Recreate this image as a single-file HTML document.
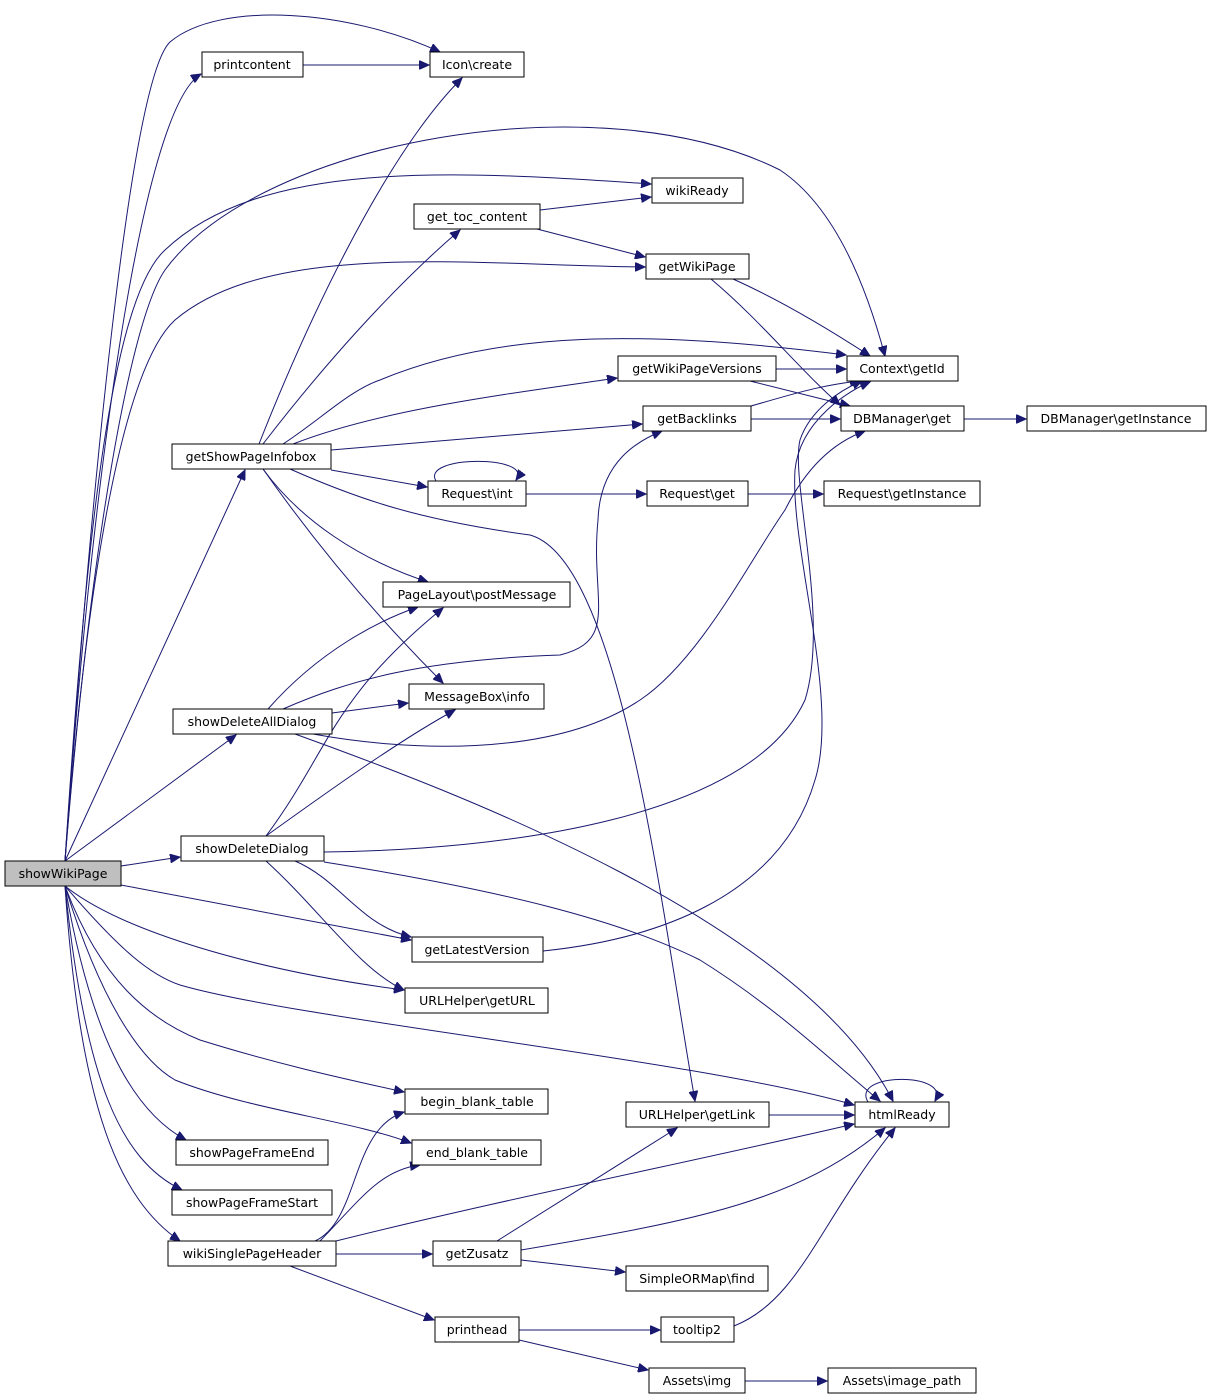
<!DOCTYPE html>
<html><head><meta charset="utf-8"><style>
html,body{margin:0;padding:0;background:#fff;}
svg{display:block;}
text{font-family:"DejaVu Sans","Liberation Sans",sans-serif;font-size:12.5px;fill:#000;text-anchor:middle;}
.n{fill:#fff;stroke:#000;stroke-width:1;}
.e{fill:none;stroke:#191970;stroke-width:1;marker-end:url(#a);}
</style></head><body>
<svg width="1212" height="1400" viewBox="0 0 1212 1400" xmlns="http://www.w3.org/2000/svg">
<defs><marker id="a" markerUnits="userSpaceOnUse" markerWidth="11" markerHeight="9" refX="10" refY="4.5" orient="auto"><path d="M0,0 L10,4.5 L0,9 z" fill="#191970" stroke="#191970"/></marker></defs>
<g>
<path class="e" d="M65,861 C90,500 130,80 170,42 C220,0 350,10 440,52"/>
<path class="e" d="M65,861 C90,500 140,110 201,74"/>
<path class="e" d="M65,861 C90,550 130,320 165,270 C260,140 600,80 780,170 C840,210 870,300 885,356"/>
<path class="e" d="M65,861 C85,550 110,300 165,250 C260,160 450,170 651,184"/>
<path class="e" d="M65,861 C85,600 120,370 175,320 C270,240 470,265 645,267"/>
<path class="e" d="M65,861 L245,470"/>
<path class="e" d="M65,861 L236,735"/>
<path class="e" d="M121,866 L180,857"/>
<path class="e" d="M121,885 L411,940"/>
<path class="e" d="M65,886 C120,930 250,970 404,990"/>
<path class="e" d="M65,886 C120,950 150,975 180,985 C300,1020 700,1060 854,1105"/>
<path class="e" d="M65,886 C100,980 150,1020 200,1040 C280,1065 350,1080 404,1092"/>
<path class="e" d="M65,886 C100,1000 140,1060 175,1080 C250,1110 350,1120 411,1143"/>
<path class="e" d="M65,886 C90,1030 130,1110 186,1140"/>
<path class="e" d="M65,886 C85,1080 120,1160 182,1190"/>
<path class="e" d="M65,886 C80,1110 120,1200 180,1241"/>
<path class="e" d="M303,65 L429,65"/>
<path class="e" d="M540,210 L651,197"/>
<path class="e" d="M537,229 L645,257"/>
<path class="e" d="M733,279 C780,300 830,330 870,356"/>
<path class="e" d="M711,279 C760,320 800,370 840,405"/>
<path class="e" d="M776,369 L846,369"/>
<path class="e" d="M750,381 L850,406"/>
<path class="e" d="M751,406 C790,395 820,385 860,381"/>
<path class="e" d="M751,419 L840,419"/>
<path class="e" d="M964,419 L1026,419"/>
<path class="e" d="M259,444 C300,340 380,160 462,78"/>
<path class="e" d="M263,444 C320,370 390,290 460,230"/>
<path class="e" d="M283,444 C320,420 350,390 380,380 C500,330 650,330 846,355"/>
<path class="e" d="M293,444 C380,410 500,395 617,378"/>
<path class="e" d="M331,450 L642,424"/>
<path class="e" d="M331,470 L427,487"/>
<path class="e" d="M290,469 C360,500 420,520 530,535 C620,560 660,900 695,1101"/>
<path class="e" d="M263,469 C300,520 360,560 428,582"/>
<path class="e" d="M263,469 C320,550 380,620 443,683"/>
<path class="e" d="M436,481 C420,455 535,455 516,480"/>
<path class="e" d="M526,494 L646,494"/>
<path class="e" d="M748,494 L823,494"/>
<path class="e" d="M268,709 C320,650 380,620 418,607"/>
<path class="e" d="M283,709 C350,680 420,660 560,655 C620,640 590,600 598,520 C600,460 640,440 662,431"/>
<path class="e" d="M332,713 L408,703"/>
<path class="e" d="M313,734 C400,750 550,760 640,700 C700,660 750,560 785,510 C810,460 840,440 865,431"/>
<path class="e" d="M295,734 C450,790 800,920 893,1101"/>
<path class="e" d="M266,836 C330,750 330,700 443,608"/>
<path class="e" d="M266,836 C330,790 400,740 455,710"/>
<path class="e" d="M324,852 C500,850 750,820 805,700 C830,620 790,480 800,440 C810,410 840,390 862,381"/>
<path class="e" d="M543,951 C650,940 780,900 815,780 C840,700 790,550 795,470 C800,420 850,390 870,382"/>
<path class="e" d="M295,861 C340,880 360,925 411,937"/>
<path class="e" d="M266,861 C320,910 360,970 404,990"/>
<path class="e" d="M324,862 C500,890 620,920 700,960 C780,1010 830,1060 880,1101"/>
<path class="e" d="M315,1241 C360,1220 350,1130 404,1112"/>
<path class="e" d="M320,1241 C360,1200 380,1170 420,1165"/>
<path class="e" d="M336,1241 C500,1200 700,1160 854,1124"/>
<path class="e" d="M336,1254 L432,1254"/>
<path class="e" d="M290,1266 L434,1320"/>
<path class="e" d="M497,1241 L677,1128"/>
<path class="e" d="M521,1250 C700,1220 800,1200 885,1128"/>
<path class="e" d="M521,1260 L625,1272"/>
<path class="e" d="M519,1330 L660,1330"/>
<path class="e" d="M519,1340 L648,1370"/>
<path class="e" d="M745,1381 L827,1381"/>
<path class="e" d="M734,1326 C800,1300 820,1220 895,1128"/>
<path class="e" d="M769,1115 L854,1115"/>
<path class="e" d="M868,1102 C850,1072 952,1072 935,1101"/>
</g>
<g>
<rect x="5" y="861" width="116" height="25" style="fill:#bfbfbf;stroke:#000"/><text x="63" y="878">showWikiPage</text>
<rect class="n" x="202" y="52" width="101" height="25"/><text x="252" y="69">printcontent</text>
<rect class="n" x="430" y="52" width="94" height="25"/><text x="477" y="69">Icon\create</text>
<rect class="n" x="652" y="178" width="91" height="25"/><text x="697" y="195">wikiReady</text>
<rect class="n" x="414" y="204" width="126" height="25"/><text x="477" y="221">get_toc_content</text>
<rect class="n" x="646" y="254" width="103" height="25"/><text x="697" y="271">getWikiPage</text>
<rect class="n" x="847" y="356" width="111" height="25"/><text x="902" y="373">Context\getId</text>
<rect class="n" x="618" y="356" width="158" height="25"/><text x="697" y="373">getWikiPageVersions</text>
<rect class="n" x="643" y="406" width="108" height="25"/><text x="697" y="423">getBacklinks</text>
<rect class="n" x="841" y="406" width="123" height="25"/><text x="902" y="423">DBManager\get</text>
<rect class="n" x="1027" y="406" width="179" height="25"/><text x="1116" y="423">DBManager\getInstance</text>
<rect class="n" x="172" y="444" width="159" height="25"/><text x="251" y="461">getShowPageInfobox</text>
<rect class="n" x="428" y="481" width="98" height="25"/><text x="477" y="498">Request\int</text>
<rect class="n" x="647" y="481" width="101" height="25"/><text x="697" y="498">Request\get</text>
<rect class="n" x="824" y="481" width="156" height="25"/><text x="902" y="498">Request\getInstance</text>
<rect class="n" x="383" y="582" width="187" height="25"/><text x="477" y="599">PageLayout\postMessage</text>
<rect class="n" x="409" y="684" width="135" height="25"/><text x="477" y="701">MessageBox\info</text>
<rect class="n" x="173" y="709" width="159" height="25"/><text x="252" y="726">showDeleteAllDialog</text>
<rect class="n" x="181" y="836" width="143" height="25"/><text x="252" y="853">showDeleteDialog</text>
<rect class="n" x="412" y="937" width="131" height="25"/><text x="477" y="954">getLatestVersion</text>
<rect class="n" x="405" y="988" width="143" height="25"/><text x="477" y="1005">URLHelper\getURL</text>
<rect class="n" x="405" y="1089" width="143" height="25"/><text x="477" y="1106">begin_blank_table</text>
<rect class="n" x="626" y="1102" width="143" height="25"/><text x="697" y="1119">URLHelper\getLink</text>
<rect class="n" x="855" y="1102" width="94" height="25"/><text x="902" y="1119">htmlReady</text>
<rect class="n" x="176" y="1140" width="152" height="25"/><text x="252" y="1157">showPageFrameEnd</text>
<rect class="n" x="412" y="1140" width="129" height="25"/><text x="477" y="1157">end_blank_table</text>
<rect class="n" x="172" y="1190" width="160" height="25"/><text x="252" y="1207">showPageFrameStart</text>
<rect class="n" x="168" y="1241" width="168" height="25"/><text x="252" y="1258">wikiSinglePageHeader</text>
<rect class="n" x="433" y="1241" width="88" height="25"/><text x="477" y="1258">getZusatz</text>
<rect class="n" x="626" y="1266" width="142" height="25"/><text x="697" y="1283">SimpleORMap\find</text>
<rect class="n" x="435" y="1317" width="84" height="25"/><text x="477" y="1334">printhead</text>
<rect class="n" x="661" y="1317" width="73" height="25"/><text x="697" y="1334">tooltip2</text>
<rect class="n" x="649" y="1368" width="96" height="25"/><text x="697" y="1385">Assets\img</text>
<rect class="n" x="828" y="1368" width="148" height="25"/><text x="902" y="1385">Assets\image_path</text>
</g>
</svg>
</body></html>
